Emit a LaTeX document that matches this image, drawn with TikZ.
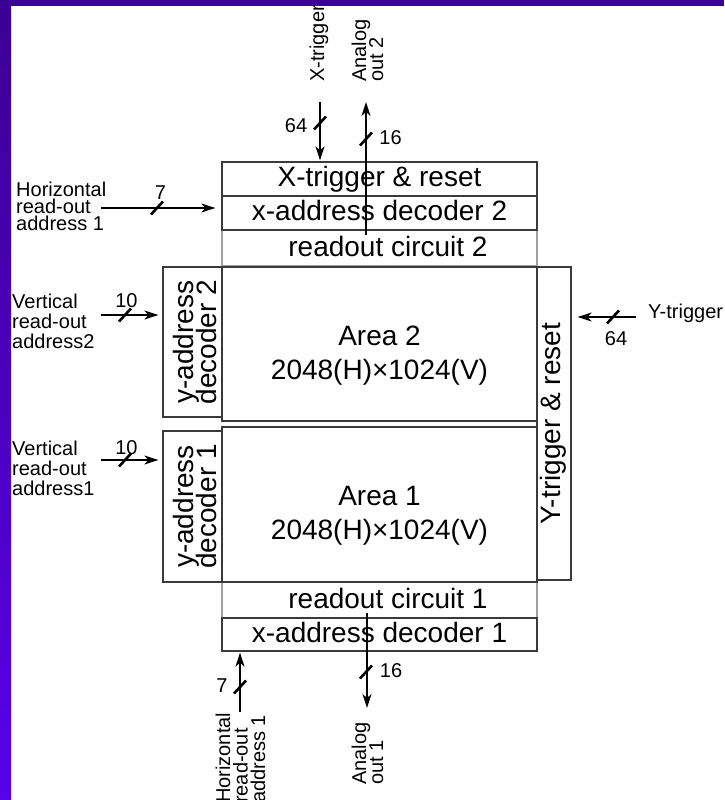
\documentclass[tikz,border=0pt]{standalone}
\usepackage{fontspec}
\setmainfont{Liberation Sans}
\usetikzlibrary{arrows.meta,calc}
\definecolor{bardark}{HTML}{3C0094}
\definecolor{barlight}{HTML}{5A00EA}
\definecolor{boxline}{HTML}{3A3A3A}
\definecolor{sideline}{HTML}{A0A0A0}
\newcommand{\bigf}{\fontsize{28}{34}\selectfont}
\newcommand{\smallf}{\fontsize{20}{17}\selectfont}
\newcommand{\stackL}[2]{\vtop{\baselineskip=#1\lineskiplimit=-\maxdimen\lineskip=0pt\halign{##\hfil\cr #2\crcr}}}
\newcommand{\stackC}[2]{\vtop{\baselineskip=#1\lineskiplimit=-\maxdimen\lineskip=0pt\halign{\hfil##\hfil\cr #2\crcr}}}
\begin{document}
\begin{tikzpicture}[x=1pt,y=-1pt,
  blk/.style={draw=boxline, line width=1.3pt, inner sep=0pt, font=\bigf, text height=20pt, text depth=5pt},
  sidebox/.style={draw=sideline, line width=1.3pt, inner sep=0pt},
  bigtxt/.style={inner sep=0pt, font=\bigf},
  smalltxt/.style={inner sep=0pt, font=\smallf},
  sig/.style={line width=1.4pt, -{Stealth[length=14pt,width=9pt,inset=4pt]}},
  buscut/.pic={\draw[line width=2.6pt] (-6,6.5) -- (6,-6.5);}
]
\useasboundingbox (0,0) rectangle (724,800);
\fill[white] (0,0) rectangle (724,800);
\clip (0,0) rectangle (724,800);

% readout circuits (light side lines)
\node[sidebox, minimum width=315pt, minimum height=36pt] (rc2) at (379.5,248) {};
\node[sidebox, minimum width=315pt, minimum height=36pt] (rc1) at (379.5,600) {};
\node[bigtxt, anchor=base] (rc2txt) at (388,256) {readout circuit 2};
\node[bigtxt, anchor=base] (rc1txt) at (388,608) {readout circuit 1};

% blocks
\node[blk, minimum width=315pt, minimum height=34pt] (xtr) at (379.5,179) {X-trigger \& reset};
\node[blk, minimum width=315pt, minimum height=34pt] (xdec2) at (379.5,213) {x-address decoder 2};
\node[blk, minimum width=315pt, minimum height=154pt] (area2) at (379.5,344) {};
\node[bigtxt, anchor=base] (area2txt) at (379.5,345) {\stackC{34pt}{Area 2\cr 2048(H)×1024(V)}};
\node[blk, minimum width=315pt, minimum height=155pt] (area1) at (379.5,504.5) {};
\node[bigtxt, anchor=base] (area1txt) at (379.5,505) {\stackC{34pt}{Area 1\cr 2048(H)×1024(V)}};
\node[blk, minimum width=59pt, minimum height=150pt] (ydec2) at (192.5,342) {};
\node[bigtxt, rotate=90, anchor=base] (ydec2txt) at (193,342) {\stackC{23.5pt}{y-address\cr decoder 2}};
\node[blk, minimum width=59pt, minimum height=151pt] (ydec1) at (192.5,506.5) {};
\node[bigtxt, rotate=90, anchor=base] (ydec1txt) at (193,506.5) {\stackC{23.5pt}{y-address\cr decoder 1}};
\node[blk, minimum width=34pt, minimum height=313pt] (ytr) at (554,423.5) {};
\node[bigtxt, rotate=90, anchor=base] (ytrtxt) at (560,423.5) {Y-trigger \& reset};
\node[blk, minimum width=315pt, minimum height=33pt] (xdec1) at (379.5,634.5) {x-address decoder 1};

% outside labels
\node[smalltxt, anchor=base west] (h2lbl) at (16,196) {\stackL{17pt}{Horizontal\cr read-out\cr address 1}};
\node[smalltxt, anchor=base west] (v2lbl) at (12,308) {\stackL{20pt}{Vertical\cr read-out\cr address2}};
\node[smalltxt, anchor=base west] (v1lbl) at (12,455) {\stackL{20pt}{Vertical\cr read-out\cr address1}};
\node[smalltxt, anchor=base west] (ytlbl) at (648,318) {Y-trigger};
\node[smalltxt, rotate=90, anchor=base west] (xtlbl) at (324,82) {X-trigger};
\node[smalltxt, rotate=90, anchor=base west] (ao2lbl) at (366,82) {\stackL{17pt}{Analog\cr out 2}};
\node[smalltxt, rotate=90, anchor=base west] (ao1lbl) at (366,785) {\stackL{17pt}{Analog\cr out 1}};
\node[smalltxt, rotate=90, anchor=base west] (h1lbl) at (230,803) {\stackL{17.5pt}{Horizontal\cr read-out\cr address 1}};

% bus widths
\node[smalltxt, anchor=base] (n64a) at (296,132) {64};
\node[smalltxt, anchor=base] (n16a) at (390.5,144) {16};
\node[smalltxt, anchor=base] (n7a) at (160.5,199) {7};
\node[smalltxt, anchor=base] (n10a) at (126.5,307) {10};
\node[smalltxt, anchor=base] (n10b) at (126.5,454) {10};
\node[smalltxt, anchor=base] (n64b) at (616,345) {64};
\node[smalltxt, anchor=base] (n7b) at (222,692) {7};
\node[smalltxt, anchor=base] (n16b) at (391,677) {16};

% connectors
\coordinate (xtin) at (320,102);
\draw[sig, shorten >=1pt] (xtin) -- (xtin |- xtr.north);
\coordinate (ao2src) at (366,235);
\coordinate (ao2end) at (366,102);
\draw[sig] (ao2src) -- (ao2end);
\coordinate (h2in) at (101,208);
\draw[sig, shorten >=6pt] (h2in) -- (h2in -| xdec2.west);
\coordinate (v2in) at (101,315);
\draw[sig, shorten >=4pt] (v2in) -- (v2in -| ydec2.west);
\coordinate (v1in) at (101,460);
\draw[sig, shorten >=4pt] (v1in) -- (v1in -| ydec1.west);
\coordinate (ytin) at (636,317);
\draw[sig, shorten >=6pt] (ytin) -- (ytin -| ytr.east);
\coordinate (h1in) at (240,712);
\draw[sig, shorten >=1pt] (h1in) -- (h1in |- xdec1.south);
\coordinate (ao1src) at (367,613);
\coordinate (ao1end) at (367,708);
\draw[sig] (ao1src) -- (ao1end);

% bus slashes
\pic at (320,123) {buscut};
\pic at (366,139) {buscut};
\pic at (157,208) {buscut};
\pic at (125,315) {buscut};
\pic at (125,460) {buscut};
\pic at (613,317) {buscut};
\pic at (240,687) {buscut};
\pic at (366,672) {buscut};

% frame bars
\shade[top color=bardark, bottom color=barlight] (0,0) rectangle (11,800);
\fill[bardark] (0,0) rectangle (724,6);
\end{tikzpicture}
\end{document}
